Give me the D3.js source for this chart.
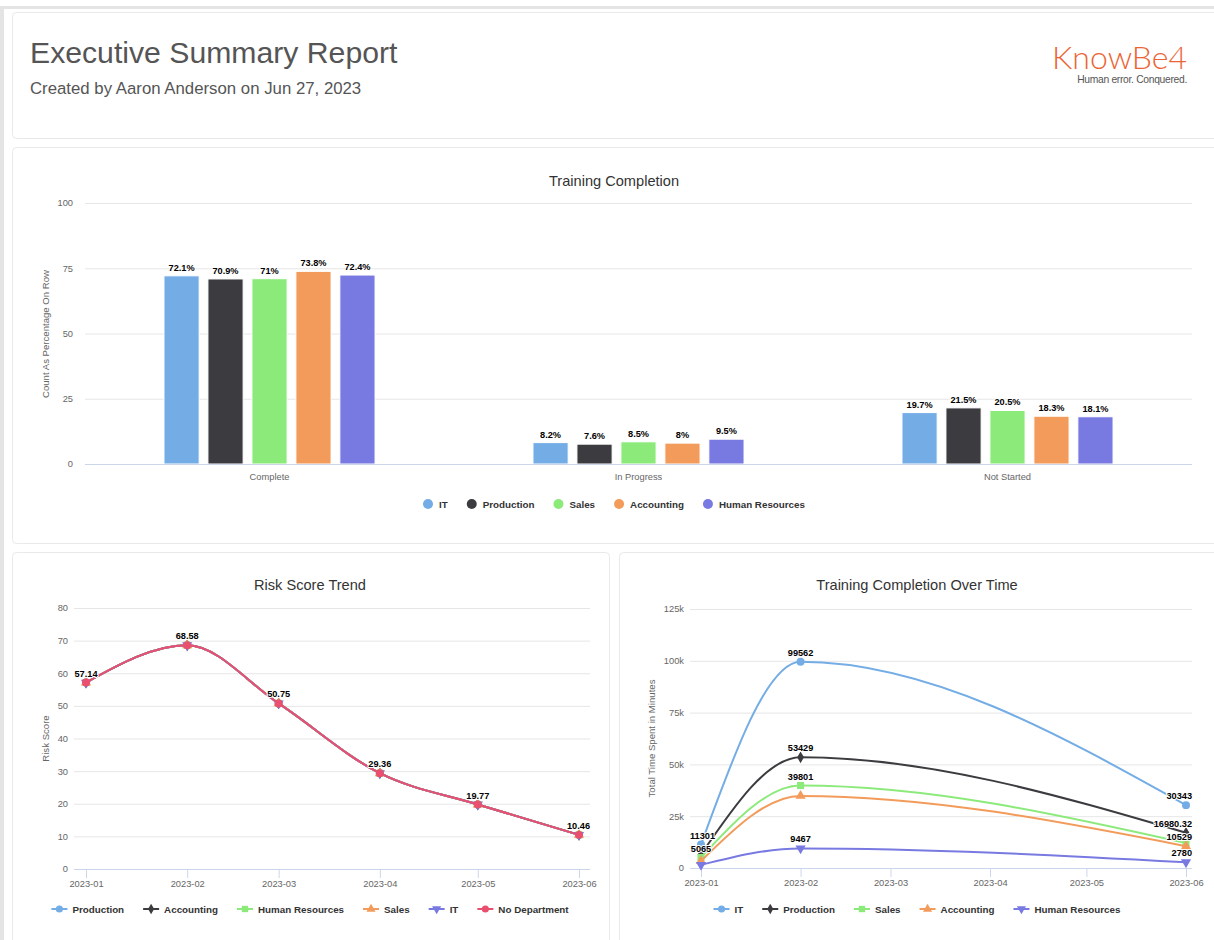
<!DOCTYPE html>
<html><head><meta charset="utf-8">
<script src="https://cdn.jsdelivr.net/npm/d3@7"></script>
<style>
body{margin:0;background:#fff;font-family:"Liberation Sans",Arial,Helvetica,sans-serif}
svg{display:block}
</style>
</head><body>
<svg id="c" width="1214" height="940"></svg>
<script>
// ---------------- DATA ----------------
const reportTitle = "Executive Summary Report";
const reportSubtitle = "Created by Aaron Anderson on Jun 27, 2023";

const completionCategories = ["Complete", "In Progress", "Not Started"];
const departments = ["IT", "Production", "Sales", "Accounting", "Human Resources"];
const itCompletion = [72.1, 8.2, 19.7];
const productionCompletion = [70.9, 7.6, 21.5];
const salesCompletion = [71, 8.5, 20.5];
const accountingCompletion = [73.8, 8, 18.3];
const hrCompletion = [72.4, 9.5, 18.1];
const completionTicks = [0, 25, 50, 75, 100];

const riskMonths = ["2023-01", "2023-02", "2023-03", "2023-04", "2023-05", "2023-06"];
const riskDepartments = ["Production", "Accounting", "Human Resources", "Sales", "IT", "No Department"];
const riskProduction = [57.14, 68.58, 50.75, 29.36, 19.77, 10.46];
const riskAccounting = [57.14, 68.58, 50.75, 29.36, 19.77, 10.46];
const riskHR = [57.14, 68.58, 50.75, 29.36, 19.77, 10.46];
const riskSales = [57.14, 68.58, 50.75, 29.36, 19.77, 10.46];
const riskIT = [57.14, 68.58, 50.75, 29.36, 19.77, 10.46];
const riskNoDepartment = [57.14, 68.58, 50.75, 29.36, 19.77, 10.46];
const riskTicks = [0, 10, 20, 30, 40, 50, 60, 70, 80];

const timeMonths = ["2023-01", "2023-02", "2023-06"];
const timeDepartments = ["IT", "Production", "Sales", "Accounting", "Human Resources"];
const timeIT = [11301, 99562, 30343];
const timeProduction = [6500, 53429, 16980.32];
const timeSales = [5065, 39801, 12000];
const timeAccounting = [3400, 34800, 10529];
const timeHR = [1500, 9467, 2780];
const timeTicks = [0, 25000, 50000, 75000, 100000, 125000];
const timeTickLabels = ["0", "25k", "50k", "75k", "100k", "125k"];

// ---------------- STYLE ----------------
const PALETTE = ["#74ade6", "#3c3c40", "#8cea7b", "#f39b5b", "#7879e1", "#e9506f"];
const FONT = '"Liberation Sans", Arial, Helvetica, sans-serif';
const svg = d3.select("#c");

// frame
svg.append("rect").attr("x",0).attr("y",0).attr("width",1214).attr("height",940).attr("fill","#fff");
svg.append("rect").attr("x",0).attr("y",6).attr("width",1214).attr("height",3).attr("fill","#e4e4e4");
svg.append("rect").attr("x",0).attr("y",6).attr("width",4).attr("height",934).attr("fill","#e4e4e4");
function panel(x,y,w,h){
  svg.append("rect").attr("x",x+0.5).attr("y",y+0.5).attr("width",w).attr("height",h).attr("rx",4)
    .attr("fill","#fff").attr("stroke","#e9e9e9").attr("stroke-width",1);
}
panel(12,12,1215,126);
panel(12,147,1215,396);
panel(12,552,597,400);
panel(619,552,600,400);

// header
svg.append("text").attr("x",30).attr("y",63).text(reportTitle)
  .attr("font-family",FONT).attr("font-size",30.2).attr("fill","#555");
svg.append("text").attr("x",30).attr("y",94).text(reportSubtitle)
  .attr("font-family",FONT).attr("font-size",16.8).attr("fill","#555");
svg.append("text").attr("x",1187).attr("y",69).attr("text-anchor","end").text("KnowBe4")
  .attr("font-family",'Lato, "Open Sans", sans-serif').attr("font-weight",300).attr("font-size",32).attr("fill","#ec6434");
svg.append("text").attr("x",1187).attr("y",83).attr("text-anchor","end").text("Human error. Conquered.")
  .attr("font-family",FONT).attr("font-size",10.3).attr("fill","#555").attr("letter-spacing","-0.3");

// helpers
function dataLabel(g, x, y, txt, minX, maxX, boxes){
  const t = g.append("text").attr("x",x).attr("y",y).attr("text-anchor","middle").text(txt)
    .attr("font-family",FONT).attr("font-size",9.2).attr("font-weight","bold").attr("fill","#000")
    .attr("stroke","#fff").attr("stroke-width",2).attr("paint-order","stroke").attr("stroke-linejoin","round");
  const w = t.node().getComputedTextLength();
  let cx = Math.max(minX + w/2, Math.min(maxX - w/2, x));
  t.attr("x",cx);
  if (boxes){
    const b = {x0:cx-w/2, x1:cx+w/2, y0:y-9, y1:y+2};
    if (boxes.some(o => !(b.x1 < o.x0 || b.x0 > o.x1 || b.y1 < o.y0 || b.y0 > o.y1))) { t.remove(); return; }
    boxes.push(b);
  }
}
function legend(items, cy, cx, kind){
  const g = svg.append("g");
  let x = 0;
  items.forEach(it => {
    const ig = g.append("g");
    const symW = kind === "bar" ? 10 : 16;
    if (kind === "bar") {
      ig.append("circle").attr("cx",5).attr("cy",0).attr("r",5).attr("fill",it.color);
    } else {
      ig.append("line").attr("x1",0).attr("x2",16).attr("y1",0).attr("y2",0).attr("stroke",it.color).attr("stroke-width",2);
      ig.append("path").attr("d",d3.symbol().type(it.symbol).size(it.size||36)()).attr("transform",`translate(8,0) rotate(${it.rot||0})`).attr("fill",it.color);
    }
    const t = ig.append("text").attr("x",symW+(kind==="bar"?6:5)).attr("y",3.5).text(it.name)
      .attr("font-family",FONT).attr("font-size",9.8).attr("font-weight","bold").attr("fill","#333");
    const w = symW + (kind==="bar"?6:5) + t.node().getComputedTextLength();
    ig.attr("transform",`translate(${x},${cy})`);
    x += w + 19;
  });
  const total = x - 19;
  g.attr("transform",`translate(${cx - total/2},0)`);
}
function title(x,y,txt){
  svg.append("text").attr("x",x).attr("y",y).attr("text-anchor","middle").text(txt)
    .attr("font-family",FONT).attr("font-size",14.6).attr("fill","#333");
}
function yTitle(x,y,txt){
  svg.append("text").attr("transform",`translate(${x},${y}) rotate(-90)`).attr("text-anchor","middle").text(txt)
    .attr("font-family",FONT).attr("font-size",9.6).attr("fill","#666");
}

// ---------------- BAR CHART ----------------
const barSeries = [itCompletion, productionCompletion, salesCompletion, accountingCompletion, hrCompletion];
{
  const L = 85, R = 1192, T = 203, B = 464;
  const x0 = d3.scaleBand().domain(completionCategories).range([L, R]);
  const bw = x0.bandwidth();
  const x1 = d3.scaleBand().domain(departments).range([bw*0.214, bw*(1-0.214)]).paddingInner(0.2);
  const y = d3.scaleLinear().domain([0,100]).range([B, T]);
  title(614, 186, "Training Completion");
  const grid = svg.append("g").attr("transform",`translate(${L},0)`)
    .call(d3.axisLeft(y).tickValues(completionTicks).tickSize(-(R-L)).tickFormat(d3.format("d")));
  grid.select(".domain").remove();
  grid.selectAll(".tick line").attr("stroke","#e6e6e6");
  grid.selectAll(".tick text").attr("x",-12).attr("font-family",FONT).attr("font-size",9.3).attr("fill","#666");
  yTitle(49, 334, "Count As Percentage On Row");
  const g = svg.append("g");
  departments.forEach((d, si) => {
    completionCategories.forEach((c, ci) => {
      const v = barSeries[si][ci];
      g.append("rect").attr("x", x0(c)+x1(d)).attr("y", y(v)).attr("width", x1.bandwidth()).attr("height", B - y(v))
        .attr("fill", PALETTE[si]).attr("stroke","#fff").attr("stroke-width",1);
    });
  });
  svg.append("line").attr("x1",L).attr("x2",R).attr("y1",B+0.5).attr("y2",B+0.5).attr("stroke","#ccd6eb");
  const lg = svg.append("g");
  departments.forEach((d, si) => {
    completionCategories.forEach((c, ci) => {
      const v = barSeries[si][ci];
      dataLabel(lg, x0(c)+x1(d)+x1.bandwidth()/2, y(v)-5, v + "%", L, R+20, null);
    });
  });
  completionCategories.forEach(c => {
    svg.append("text").attr("x", x0(c)+bw/2).attr("y", 480).attr("text-anchor","middle").text(c)
      .attr("font-family",FONT).attr("font-size",9.3).attr("fill","#666");
  });
  legend(departments.map((d,si) => ({name:d, color:PALETTE[si]})), 504, 614, "bar");
}

// ---------------- LINE CHARTS ----------------
const parseM = d3.utcParse("%Y-%m");
const SYMS = [
  {symbol:d3.symbolCircle, size:50, rot:0},
  {symbol:d3.symbolDiamond, size:40, rot:0},
  {symbol:d3.symbolSquare, size:50, rot:0},
  {symbol:d3.symbolTriangle, size:45, rot:0},
  {symbol:d3.symbolTriangle, size:45, rot:180},
  {symbol:d3.symbolCircle, size:50, rot:0}
];
function lineChart(o){
  const {L, R, XL, XR, T, B, months, series, names, yMax, ticks, tickLabels, cx} = o;
  const dates = months.map(parseM);
  const x = d3.scaleUtc().domain([parseM(months[0]), parseM(months[months.length-1])]).range([XL, XR]);
  const y = d3.scaleLinear().domain([0, yMax]).range([B, T]);
  title(cx, 590, o.title);
  const grid = svg.append("g").attr("transform",`translate(${L},0)`)
    .call(d3.axisLeft(y).tickValues(ticks).tickSize(-(R-L)).tickFormat((d,i)=>tickLabels[i]));
  grid.select(".domain").remove();
  grid.selectAll(".tick line").attr("stroke","#e6e6e6");
  grid.selectAll(".tick text").attr("x",-6).attr("font-family",FONT).attr("font-size",9.3).attr("fill","#666");
  yTitle(o.ytx, (T+B)/2, o.yTitle);
  svg.append("line").attr("x1",L).attr("x2",R).attr("y1",B+0.5).attr("y2",B+0.5).attr("stroke","#ccd6eb");
  const xa = svg.append("g").attr("transform",`translate(0,${B})`)
    .call(d3.axisBottom(x).ticks(d3.utcMonth.every(1)).tickSize(9).tickFormat(d3.utcFormat("%Y-%m")));
  xa.select(".domain").remove();
  xa.selectAll(".tick line").attr("stroke","#ccd6eb");
  xa.selectAll(".tick text").attr("y",11).attr("font-family",FONT).attr("font-size",9.3).attr("fill","#666");
  const line = d3.line().x((d,i)=>x(dates[i])).y(d=>y(d)).curve(d3.curveMonotoneX);
  const g = svg.append("g");
  series.forEach((s, si) => {
    const c = PALETTE[si];
    g.append("path").attr("d", line(s)).attr("fill","none").attr("stroke",c).attr("stroke-width",2);
    s.forEach((v,i) => {
      const sy = SYMS[si];
      g.append("path").attr("d", d3.symbol().type(sy.symbol).size(sy.size)())
        .attr("transform",`translate(${x(dates[i])},${y(v)}) rotate(${sy.rot})`).attr("fill",c);
    });
  });
  const lg = svg.append("g"); const boxes = [];
  dates.forEach((dt,i) => {
    series.forEach((s, si) => {
      const v = s[i];
      dataLabel(lg, x(dt), y(v)-6, d3.format("")(v), L, R, boxes);
    });
  });
  legend(names.map((n,si)=>({name:n, color:PALETTE[si], symbol:SYMS[si].symbol, size:SYMS[si].size*0.8, rot:SYMS[si].rot})), 909, cx, "line");
}
lineChart({title:"Risk Score Trend", L:74, R:590, XL:86, XR:579, T:608, B:869, months:riskMonths,
  series:[riskProduction, riskAccounting, riskHR, riskSales, riskIT, riskNoDepartment], names:riskDepartments,
  yMax:80, ticks:riskTicks, tickLabels:riskTicks.map(String), cx:310, ytx:49, yTitle:"Risk Score"});
lineChart({title:"Training Completion Over Time", L:690, R:1192, XL:701, XR:1186, T:609, B:868, months:timeMonths,
  series:[timeIT, timeProduction, timeSales, timeAccounting, timeHR], names:timeDepartments,
  yMax:125000, ticks:timeTicks, tickLabels:timeTickLabels, cx:917, ytx:655, yTitle:"Total Time Spent in Minutes"});
</script>
</body></html>
